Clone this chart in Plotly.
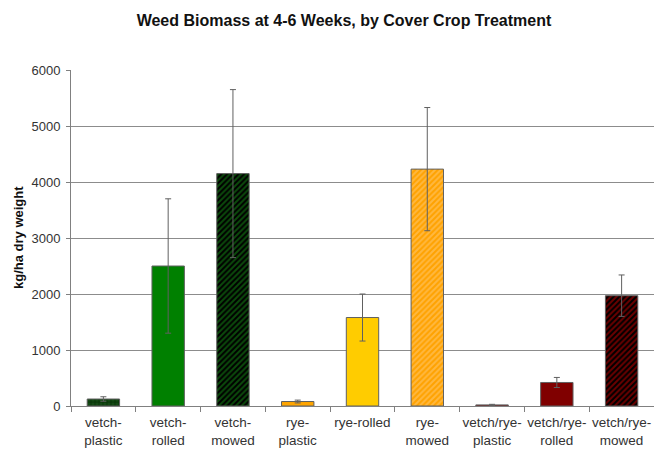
import plotly.graph_objects as go

categories = ["vetch-<br>plastic", "vetch-<br>rolled", "vetch-<br>mowed",
              "rye-<br>plastic", "rye-rolled", "rye-<br>mowed",
              "vetch/rye-<br>plastic", "vetch/rye-<br>rolled", "vetch/rye-<br>mowed"]
biomass = [125, 2500, 4150, 80, 1580, 4230, 20, 420, 1970]
err_plus = [40, 1200, 1500, 25, 420, 1100, 10, 90, 370]

colors = ["#0a3a0a", "#008000", "#0b4a0b", "#FFA500", "#FFCC00", "#FFA200", "#7a0000", "#800000", "#6a0000"]
patterns = [".", "", "/", "", "", "/", "", "", "/"]
fgcolors = ["#154a15", "#008000", "#000000", "#FFA500", "#FFCC00", "#FFB840", "#7a0000", "#800000", "#000000"]

fig = go.Figure()
for cat, val, err, col, pat, fg in zip(categories, biomass, err_plus, colors, patterns, fgcolors):
    fig.add_trace(go.Bar(
        x=[cat], y=[val],
        width=0.5,
        marker=dict(color=col,
                    line=dict(color="#606060", width=1),
                    pattern=dict(shape=pat, fgcolor=fg, bgcolor=col, fgopacity=1,
                                 size=4, solidity=0.5, fillmode="replace")),
        error_y=dict(type="data", array=[err], visible=True,
                     color="#606060", thickness=1, width=3),
    ))

fig.update_layout(
    width=654, height=450,
    paper_bgcolor="white", plot_bgcolor="white",
    margin=dict(l=71, r=0, t=70, b=44, autoexpand=False),
    showlegend=False,
    barmode="overlay",
    font=dict(family="Liberation Sans, Arial, sans-serif", size=12, color="#333333"),
    title=dict(text="<b>Weed Biomass at 4-6 Weeks, by Cover Crop Treatment</b>",
               x=344/654, xanchor="center", y=1 - 20/450, yanchor="middle",
               font=dict(size=16, color="#111111")),
)
fig.update_xaxes(
    categoryorder="array", categoryarray=categories,
    showline=True, linecolor="#808080", linewidth=1,
    ticks="outside", tickson="boundaries", ticklen=5, tickcolor="#808080",
    tickfont=dict(size=13.5, color="#333333"), tickangle=0, ticklabelstandoff=4,
    showgrid=False, automargin=False,
)
fig.update_yaxes(
    range=[0, 6000], dtick=1000,
    showline=True, linecolor="#808080", linewidth=1,
    ticks="outside", ticklen=4, tickcolor="#808080",
    showgrid=True, gridcolor="#8c8c8c", gridwidth=1,
    zeroline=False, automargin=False, ticklabelstandoff=3,
    tickfont=dict(size=13, color="#333333"),
)
fig.add_annotation(
    text="<b>kg/ha dry weight</b>", textangle=-90,
    xref="paper", yref="paper", x=-(71 - 18) / 583, y=0.5,
    xanchor="center", yanchor="middle", showarrow=False,
    font=dict(size=13, color="#111111"),
)

fig.write_html("out.html", config={"displayModeBar": False},
               post_script="document.body.style.margin='0';")
